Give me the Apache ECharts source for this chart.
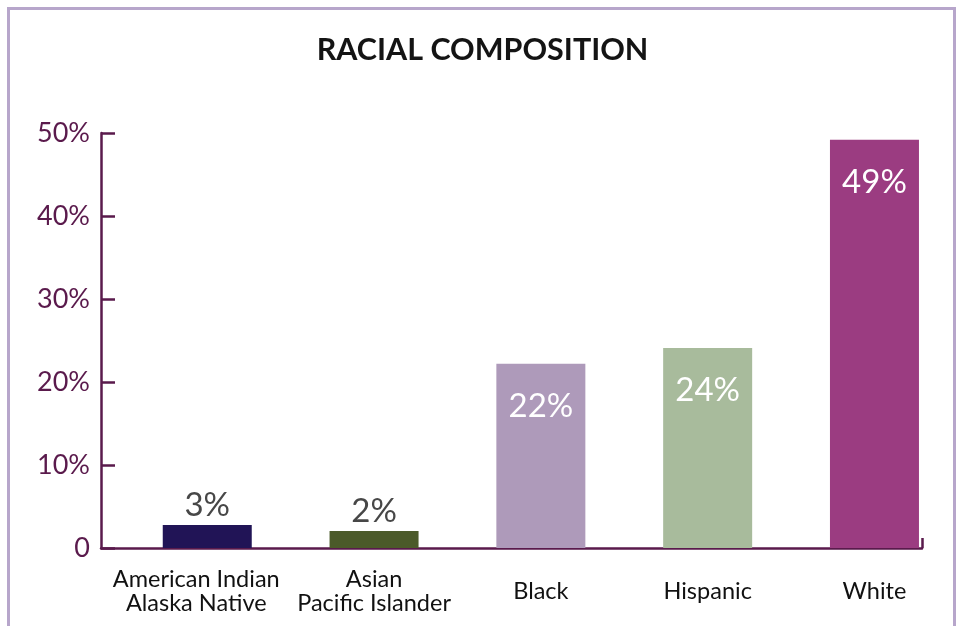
<!DOCTYPE html>
<html>
<head>
<meta charset="utf-8">
<script src="https://cdn.jsdelivr.net/npm/echarts@6/dist/echarts.min.js"></script>
<style>
  html, body { margin: 0; padding: 0; background: #ffffff; }
  #frame { position: absolute; left: 7px; top: 7px; width: 949px; height: 660px; border: 3px solid #b7a6cb; box-sizing: border-box; }
  #chart { position: absolute; left: 0; top: 0; width: 965px; height: 626px; }
</style>
</head>
<body>
<div id="frame"></div>
<div id="chart"></div>
<script>
const categories = ['American Indian\nAlaska Native', 'Asian\nPacific Islander', 'Black', 'Hispanic', 'White'];
const values = [2.77, 2.05, 22.2, 24.1, 49.2];
const barColors = ['#211456', '#4b5a2a', '#ae9aba', '#a8bb9c', '#9b3c81'];
const labelInside = [false, false, true, true, true];
const yTicks = [0, 10, 20, 30, 40, 50];

const axisColor = '#5a1a4c';
const fontFamily = 'Lato, "Open Sans", sans-serif';

const chart = echarts.init(document.getElementById('chart'));
const xMin = -0.637, xMax = 4.285;
// the first category label sits slightly left of its bar in the original
const labelShift = [-0.066, 0, 0, 0, 0];

const data = values.map((v, i) => ({
  value: [i, v],
  itemStyle: { color: barColors[i] },
  label: labelInside[i]
    ? { position: 'insideTop', distance: 26, color: '#ffffff' }
    : { position: 'top', distance: 3, color: '#474747' }
}));

chart.setOption({
  animation: false,
  title: {
    text: 'RACIAL COMPOSITION',
    left: 'center',
    top: 30,
    textStyle: { fontFamily, fontWeight: 'bold', fontSize: 30.5, color: '#141414' }
  },
  grid: { left: 101, right: 43, top: 133, bottom: 78 },
  xAxis: {
    type: 'value',
    min: xMin,
    max: xMax,
    splitLine: { show: false },
    axisLine: { show: true, lineStyle: { color: axisColor, width: 2.5 } },
    axisTick: { show: true, inside: true, length: 10, customValues: [xMax], lineStyle: { color: axisColor, width: 2.5 } },
    axisLabel: {
      customValues: categories.map((c, i) => i + labelShift[i]),
      formatter: v => categories[Math.abs(Math.round(v))] || '',
      verticalAlign: 'middle',
      margin: 43,
      lineHeight: 24,
      fontFamily,
      fontSize: 23.5,
      color: '#111111'
    }
  },
  yAxis: {
    type: 'value',
    min: 0,
    max: 50,
    interval: 10,
    splitLine: { show: false },
    axisLine: { show: true, onZero: false, lineStyle: { color: axisColor, width: 2.5 } },
    axisTick: { show: true, inside: true, length: 14, lineStyle: { color: axisColor, width: 2.5 } },
    axisLabel: {
      customValues: yTicks,
      formatter: v => v === 0 ? '0' : v + '%',
      margin: 11,
      fontFamily,
      fontSize: 27,
      color: axisColor
    }
  },
  series: [{
    type: 'bar',
    barWidth: 89,
    data,
    label: {
      show: true,
      fontFamily,
      fontSize: 33,
      formatter: p => Math.round(p.value[1]) + '%'
    }
  }]
});
</script>
</body>
</html>
